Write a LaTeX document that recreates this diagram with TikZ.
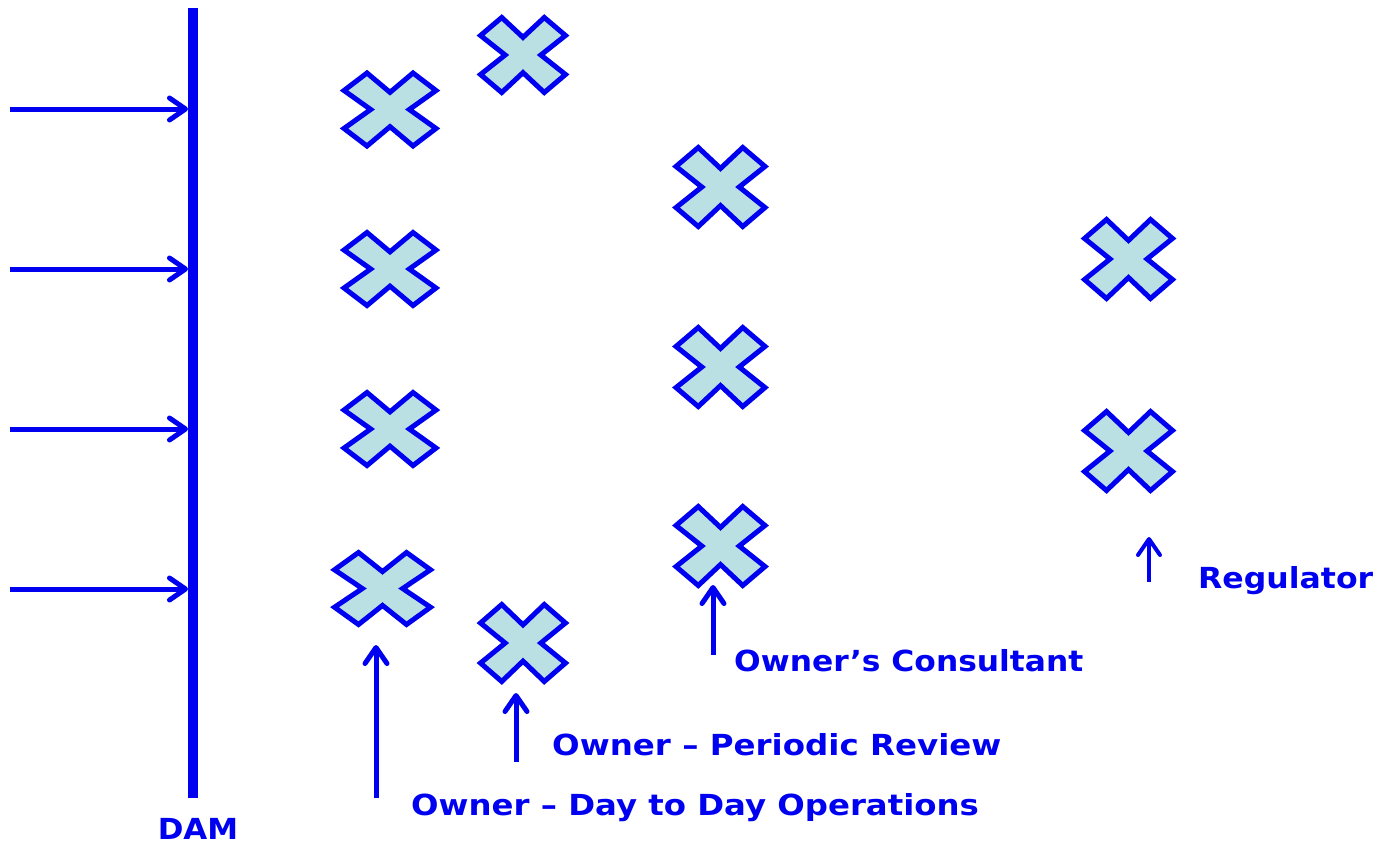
\documentclass[tikz,border=0pt]{standalone}
\usepackage{fontspec}
\usepackage{graphicx}
\setmainfont{DejaVu Sans}
\usetikzlibrary{arrows.meta}
\definecolor{damblue}{RGB}{0,0,240}
\definecolor{crossfill}{RGB}{186,224,228}
\tikzset{
  crossline/.style={draw=damblue,fill=crossfill,line width=5pt,line join=miter},
  pics/cross/.style 2 args={code={
    \draw[crossline] ({-#1},{-0.52*#2}) -- ({-0.5*#1},{-#2}) -- (0,{-0.47*#2}) -- ({0.5*#1},{-#2})
      -- ({#1},{-0.52*#2}) -- ({0.42*#1},0) -- ({#1},{0.52*#2}) -- ({0.5*#1},{#2}) -- (0,{0.47*#2})
      -- ({-0.5*#1},{#2}) -- ({-#1},{0.52*#2}) -- ({-0.42*#1},0) -- cycle;
  }},
  arr/.style={draw=damblue,line width=5pt,-{Straight Barb[length=16pt,width=22pt,round]}},
  lbl/.style={text=damblue,font=\fontsize{29}{34}\selectfont\bfseries,inner sep=0pt,anchor=base west},
}
\begin{document}
\begin{tikzpicture}[x=1pt,y=-1pt]
\useasboundingbox (0,0) rectangle (1378,844);
% dam wall
\coordinate (damtop) at (193,8);
\coordinate (dambot) at (193,798);
\draw[damblue,line width=10pt] (damtop) -- (dambot);
\node[lbl,anchor=base] (damlbl) at (198,839) {\scalebox{1.067}[1]{DAM}};
% flow arrows
\foreach \i/\y in {1/109,2/269,3/429,4/589}{
  \coordinate (fs\i) at (10,\y);
  \coordinate (fe\i) at (188,\y);
  \draw[arr] (fs\i) -- (fe\i);
}
% crosses
\pic at (390,109.5) {cross={46}{36.5}};
\pic at (390,269) {cross={46}{36.5}};
\pic at (390,429) {cross={46}{36.5}};
\pic at (382.5,588.5) {cross={48}{36}};
\pic at (523,55) {cross={42.5}{37.5}};
\pic at (523,643) {cross={42.5}{38.5}};
\pic at (720.5,187) {cross={44.5}{39.5}};
\pic at (720.5,367) {cross={44.5}{39.5}};
\pic at (720.5,546) {cross={44.5}{39.5}};
\pic at (1128.5,259) {cross={44}{39.5}};
\pic at (1128.5,451) {cross={44}{39.5}};
% labels
\node[lbl] (lday) at (411,815) {\scalebox{1.116}[1]{Owner – Day to Day Operations}};
\node[lbl] (lper) at (552,755) {\scalebox{1.12}[1]{Owner – Periodic Review}};
\node[lbl] (lcon) at (734,671) {\scalebox{1.08}[1]{Owner’s Consultant}};
\node[lbl] (lreg) at (1198,588) {\scalebox{1.087}[1]{Regulator}};
% pointer arrows
\coordinate (a1s) at (376,798); \coordinate (a1e) at (376,645);
\coordinate (a2s) at (516,762); \coordinate (a2e) at (516,693);
\coordinate (a3s) at (713,655); \coordinate (a3e) at (713,585);
\coordinate (a4s) at (1149,582); \coordinate (a4e) at (1149,537);
\draw[arr] (a1s) -- (a1e);
\draw[arr] (a2s) -- (a2e);
\draw[arr] (a3s) -- (a3e);
\draw[arr,line width=4pt] (a4s) -- (a4e);
\end{tikzpicture}
\end{document}
